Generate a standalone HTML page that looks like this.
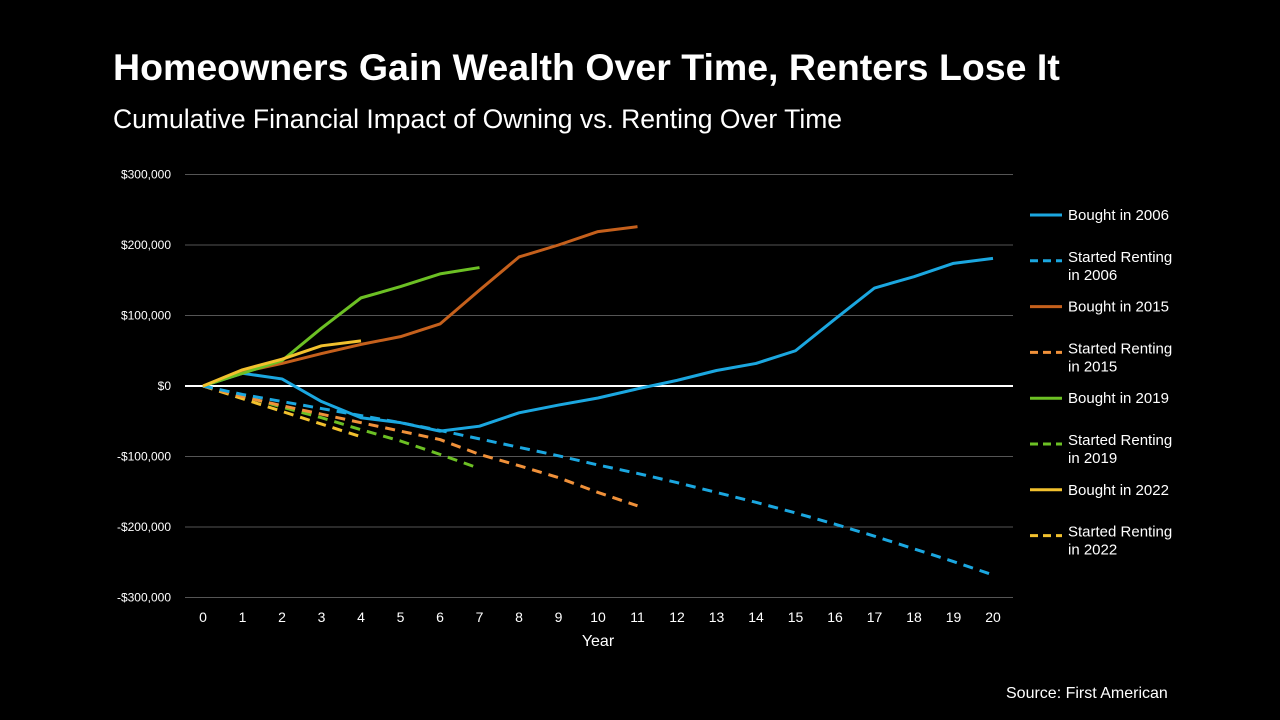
<!DOCTYPE html>
<html><head><meta charset="utf-8"><style>
body{margin:0;background:#000;width:1280px;height:720px;overflow:hidden;font-family:"Liberation Sans",Arial,sans-serif;color:#fff}
#title{position:absolute;left:113px;top:46px;font-size:37.5px;font-weight:bold}
#sub{position:absolute;left:113px;top:104px;font-size:26.5px}
#src{position:absolute;left:1006px;top:685px;font-size:16px}
svg{position:absolute;left:0;top:0}
</style></head><body>
<div id="title">Homeowners Gain Wealth Over Time, Renters Lose It</div>
<div id="sub">Cumulative Financial Impact of Owning vs. Renting Over Time</div>
<div id="src">Source: First American</div>
<svg id="c" width="1280" height="720"></svg>
<script>
const years=[0,1,2,3,4,5,6,7,8,9,10,11,12,13,14,15,16,17,18,19,20];
const yTicks=[300000,200000,100000,0,-100000,-200000,-300000];
const yTickLabels=["$300,000","$200,000","$100,000","$0","-$100,000","-$200,000","-$300,000"];
const bought2006=[0,18,10,-22,-45,-52,-64,-57,-38,-27,-17,-4,8,22,32,50,95,139,155,174,181];
const rent2006=[0,-12,-22,-32,-42,-52,-63,-75,-87,-99,-112,-124,-137,-151,-165,-180,-196,-213,-231,-249,-268];
const bought2015=[0,20,32,46,59,70,88,136,183,200,219,226];
const rent2015=[0,-15,-28,-40,-52,-64,-76,-97,-113,-130,-151,-170];
const bought2019=[0,18,36,82,125,141,159,168];
const rent2019=[0,-14,-30,-45,-62,-78,-97,-117];
const bought2022=[0,23,38,57,64];
const rent2022=[0,-18,-36,-54,-72];
const seriesNames=["Bought in 2006","Started Renting in 2006","Bought in 2015","Started Renting in 2015","Bought in 2019","Started Renting in 2019","Bought in 2022","Started Renting in 2022"];
const NS="http://www.w3.org/2000/svg",svg=document.getElementById('c');
const X=v=>203+v*39.5, Y=v=>386-v/100000*70.5;
function mk(t,a,p){const e=document.createElementNS(NS,t);for(const k in a)e.setAttribute(k,a[k]);(p||svg).appendChild(e);return e;}
yTicks.forEach((t,i)=>{
 const l=mk('line',{x1:185,x2:1013,y1:Y(t),y2:Y(t),stroke:t===0?'#fff':'#555','stroke-width':t===0?2:1});
 
 
 const tx=mk('text',{x:171,y:Y(t)+4,'text-anchor':'end',fill:'#fff','font-size':12});
 tx.textContent=yTickLabels[i];
 
 
});
years.forEach(v=>{
 const tx=mk('text',{x:X(v),y:622,'text-anchor':'middle',fill:'#fff','font-size':14});
 tx.textContent=v;
 
 
});
const xt=mk('text',{x:598,y:646,'text-anchor':'middle',fill:'#fff','font-size':16});
xt.textContent='Year';


const series=[[rent2022,'#f2c12e',1],[rent2019,'#6cc024',1],[rent2015,'#f0913a',1],[rent2006,'#1ba7e0',1],[bought2006,'#1ba7e0',0],[bought2015,'#c5601c',0],[bought2019,'#6cc024',0],[bought2022,'#f2c12e',0]];
series.forEach(([d,c,dash])=>{
 const p=mk('polyline',{points:d.map((v,i)=>X(i)+','+Y(v*1000)).join(' '),fill:'none',stroke:c,'stroke-width':3,'stroke-dasharray':dash?'10,7':'none','stroke-linejoin':'round'});
 
 
});
const legCols=['#1ba7e0','#1ba7e0','#c5601c','#f0913a','#6cc024','#6cc024','#f2c12e','#f2c12e'];
seriesNames.forEach((n,i)=>{
 const y0=215+i*45.8;
 const l=mk('line',{x1:1030,x2:1062,y1:y0,y2:y0,stroke:legCols[i],'stroke-width':3,'stroke-dasharray':i%2?'8,5':'none'});
 
 
 const t=mk('text',{x:1068,y:y0+5,fill:'#fff','font-size':15});
 
 
 if(i%2){const a=mk('tspan',{x:1068},t);a.textContent=n.replace(/ in \d+/,'');const b=mk('tspan',{x:1068,dy:18},t);b.textContent=n.match(/in \d+/)[0];t.setAttribute('y',y0+5-4);}
 else t.textContent=n;
});
</script>
</body></html>
